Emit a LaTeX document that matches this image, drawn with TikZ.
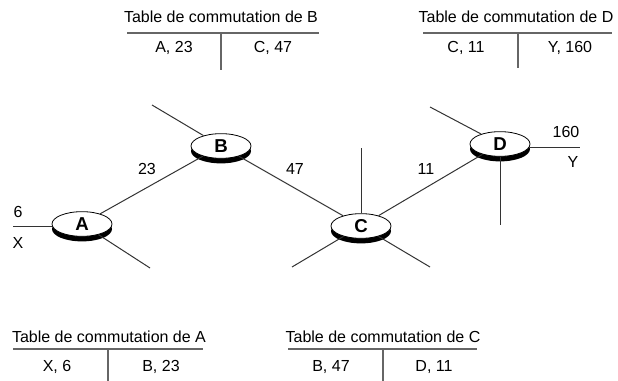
\documentclass[tikz,border=0pt]{standalone}
\usepackage{fontspec}
\setmainfont{Liberation Sans}
\usetikzlibrary{shapes.geometric,shadows}

\begin{document}
\begin{tikzpicture}[x=0.75pt,y=-0.75pt,
    font=\fontsize{12}{14}\selectfont,
    router/.style={ellipse, draw=black, line width=0.6pt, fill=white,
      minimum width=45pt, minimum height=18.5pt, inner sep=0pt,
      font=\fontsize{14}{15}\selectfont\bfseries,
      general shadow={shadow yshift=-3.8pt, fill=black}},
    link/.style={draw=black!80, line width=0.75pt},
    rule/.style={draw=black!60, line width=1.1pt},
    lbl/.style={anchor=base, inner sep=0pt}]
  \useasboundingbox (0,0) rectangle (618,381);

  % routeurs
  \node[router] (A) at (82,224) {A};
  \node[router] (B) at (221,146) {B};
  \node[router] (C) at (361,226) {C};
  \node[router] (D) at (500,144) {D};

  % extremites libres
  \coordinate (xA) at (13,227);
  \coordinate (sA) at (150,268);
  \coordinate (nB) at (152,105);
  \coordinate (nC) at (361,148);
  \coordinate (swC) at (292,267);
  \coordinate (seC) at (430,267);
  \coordinate (nD) at (430,107);
  \coordinate (yD) at (580,148);
  \coordinate (sD) at (500,225);

  % liaisons
  \draw[link] (A) -- (B);
  \draw[link] (B) -- (C);
  \draw[link] (C) -- (D);
  \draw[link] (xA) -- (xA -| A.west);
  \draw[link] (A) -- (sA);
  \draw[link] (B) -- (nB);
  \draw[link] (C) -- (nC);
  \draw[link] (C) -- (swC);
  \draw[link] (C) -- (seC);
  \draw[link] (D) -- (nD);
  \draw[link] (yD -| D.east) -- (yD);
  \draw[link] (D) -- (sD);

  % numeros de circuit
  \node[lbl] (l6) at (18,218) {6};
  \node[lbl] (lX) at (18,248) {X};
  \node[lbl] (l23) at (147,175) {23};
  \node[lbl] (l47) at (295,175) {47};
  \node[lbl] (l11) at (426,175) {11};
  \node[lbl] (l160) at (566,138) {160};
  \node[lbl] (lY) at (573,168) {Y};

  % table de B
  \node[lbl] (tB) at (221,23) {Table de commutation de B};
  \draw[rule] (127,33) -- (319,33);
  \draw[rule] (221,33) -- (221,70);
  \node[lbl] (tB1) at (174,53) {A, 23};
  \node[lbl] (tB2) at (273,53) {C, 47};

  % table de D
  \node[lbl] (tD) at (516,23) {Table de commutation de D};
  \draw[rule] (423,33) -- (612,33);
  \draw[rule] (518,33) -- (518,68);
  \node[lbl] (tD1) at (466,53) {C, 11};
  \node[lbl] (tD2) at (570,53) {Y, 160};

  % table de A
  \node[lbl] (tA) at (109,342) {Table de commutation de A};
  \draw[rule] (13,349) -- (203,349);
  \draw[rule] (108,349) -- (108,381);
  \node[lbl] (tA1) at (57,371) {X, 6};
  \node[lbl] (tA2) at (161,371) {B, 23};

  % table de C
  \node[lbl] (tC) at (383,342) {Table de commutation de C};
  \draw[rule] (288,349) -- (477,349);
  \draw[rule] (383,349) -- (383,381);
  \node[lbl] (tC1) at (331,371) {B, 47};
  \node[lbl] (tC2) at (434,371) {D, 11};
\end{tikzpicture}
\end{document}
